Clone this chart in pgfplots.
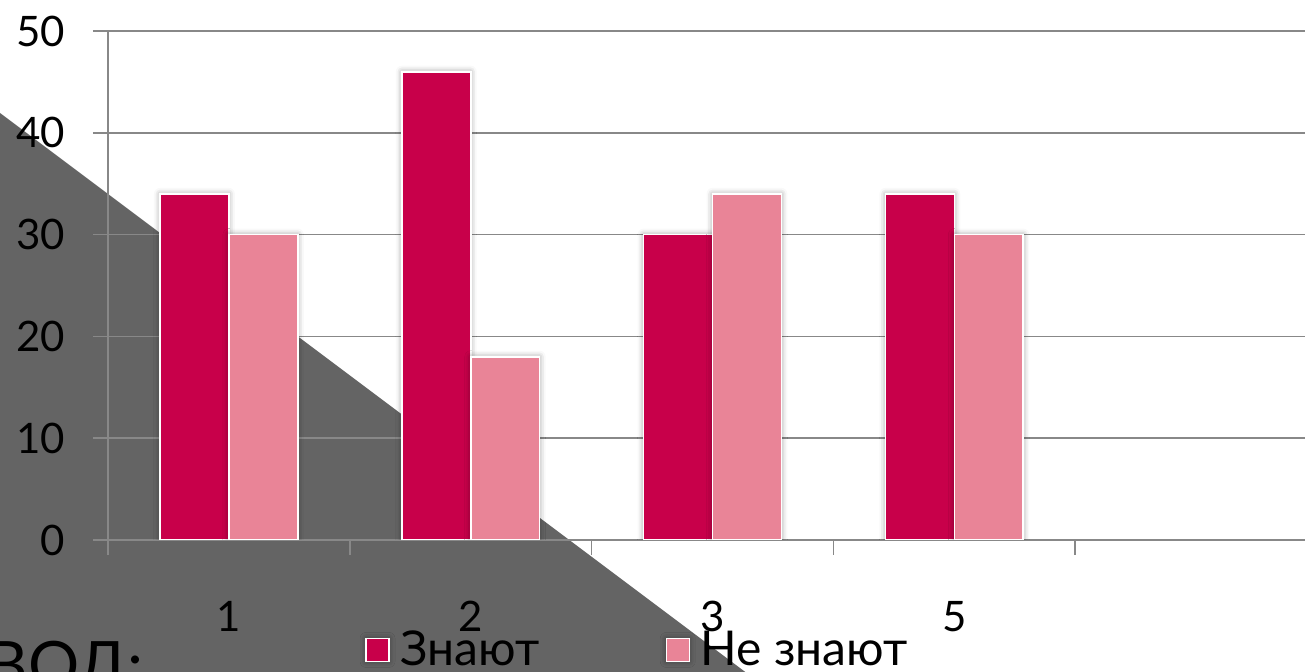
\documentclass[border=0pt]{standalone}
\usepackage{pgfplots}
\pgfplotsset{compat=1.18}
\usepackage{fontspec}
\setmainfont{Lato}
\usetikzlibrary{shadows.blur}
\definecolor{cA}{HTML}{C8004A}
\definecolor{cB}{HTML}{E98497}
\definecolor{tri}{HTML}{646464}
\definecolor{gridc}{HTML}{888888}
\begin{document}
\begin{tikzpicture}
\useasboundingbox (0,0) rectangle (652.5pt,336pt);
\clip (0,0) rectangle (652.5pt,336pt);
% slide decoration: gray triangle
\fill[tri] (-5pt,283.25pt) -- (-5pt,-20pt) -- (399.3pt,-20pt) -- cycle;
\node[anchor=base east, inner sep=0pt, font=\fontsize{32}{36}\selectfont] at (72pt,-8pt) {ВЫВОД:};
\begin{axis}[
  at={(54pt,66pt)}, anchor=south west,
  scale only axis, width=604.5pt, height=254.5pt,
  xmin=-0.5, xmax=4.5, ymin=0, ymax=50,
  ybar, bar width=0.285,
  axis lines*=left,
  axis line style={gridc, line width=0.8pt},
  ytick={0,10,...,50},
  ymajorgrids,
  grid style={gridc, line width=0.8pt},
  tick style={gridc, line width=0.8pt},
  tick align=outside,
  major tick length=7.5pt,
  xtick={-0.5,0.5,...,4.5},
  xticklabels={},
  extra x ticks={0,1,2,3},
  extra x tick labels={1,2,3,5},
  extra x tick style={major tick length=0pt, xticklabel style={yshift=-27pt}},
  /pgf/number format/assume math mode=true,
  tick label style={font=\fontsize{21}{25}\selectfont, black},
  yticklabel style={xshift=-10.5pt},
  legend columns=2,
  legend style={at={(0.2126,-0.216)}, anchor=west, draw=none, fill=none,
    inner sep=0pt, font=\fontsize{24}{28}\selectfont,
    /tikz/every even column/.append style={column sep=0pt}},
  legend image code/.code={\draw[#1, draw=white, line width=0.6pt] (0pt,-5.75pt) rectangle (11.5pt,5.75pt);},
  every axis plot/.append style={draw=white, line width=0.8pt,
    blur shadow={shadow xshift=0pt, shadow yshift=0pt, shadow blur radius=3pt, shadow opacity=40}},
]
\addplot[fill=cA, bar shift=-0.1425] coordinates {(0,34) (1,46) (2,30) (3,34)};
\addplot[fill=cB, bar shift=0.1425] coordinates {(0,30) (1,18) (2,34) (3,30)};
\addlegendentry{\makebox[134pt][l]{\hspace*{3.5pt}Знают}}
\addlegendentry{\hspace*{3.5pt}Не знают}
\end{axis}
\end{tikzpicture}
\end{document}
